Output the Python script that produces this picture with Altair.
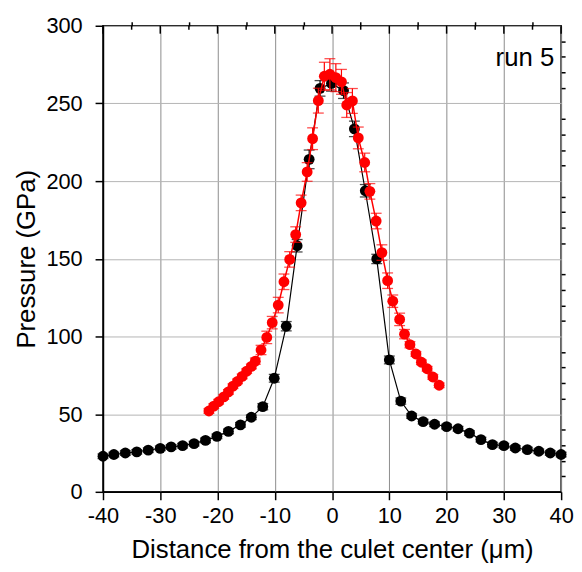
import altair as alt
import pandas as pd

# Black series (run 5, first profile)
black_x = [-40.0, -38.1, -36.1, -34.1, -32.1, -30.0, -28.1, -26.1, -24.1, -22.1,
           -20.1, -18.1, -16.0, -14.1, -12.1, -10.1, -8.0, -6.1, -4.0, -2.1,
           -0.1, 2.0, 3.9, 5.8, 7.8, 10.0, 12.0, 13.9, 15.9, 17.9,
           20.0, 22.0, 24.0, 26.0, 28.0, 30.0, 32.0, 34.1, 36.1, 38.1, 40.0]
black_y = [22.9, 24.0, 25.0, 25.7, 26.8, 28.0, 28.9, 29.7, 31.0, 33.1,
           35.7, 38.9, 43.1, 48.0, 54.8, 73.1, 106.6, 158.4, 214.0, 259.7,
           262.9, 258.2, 233.6, 193.8, 149.9, 84.9, 58.4, 48.8, 45.2, 43.5,
           42.0, 40.6, 37.8, 33.6, 30.4, 29.7, 28.2, 27.2, 26.1, 25.0, 24.0]
black_err = [1.5, 1.5, 1.5, 1.5, 1.5, 1.5, 1.5, 1.5, 1.5, 1.5,
             1.5, 1.5, 1.5, 1.5, 2.0, 2.5, 3.0, 4.0, 6.0, 5.0,
             5.0, 5.0, 5.0, 4.0, 3.0, 2.5, 2.0, 1.5, 1.5, 1.5,
             1.5, 1.5, 1.5, 1.5, 1.5, 1.5, 1.5, 1.5, 1.5, 1.5, 1.5]

# Red series
red_x = [-21.5, -20.65, -19.8, -18.9, -18.1, -17.3, -16.5, -15.7, -14.9, -14.1,
         -13.4, -12.4, -11.4, -10.45, -9.4, -8.4, -7.4, -6.35, -5.4, -4.35,
         -3.4, -2.4, -1.35, -0.38, 0.66, 1.64, 2.56, 3.55, 4.58, 5.7,
         6.6, 7.7, 8.7, 9.7, 10.6, 11.8, 12.65, 13.6, 14.65, 15.6,
         16.6, 17.6, 18.7]
red_y = [52.0, 55.2, 58.0, 61.1, 64.3, 68.0, 71.1, 74.3, 77.7, 80.7,
         84.1, 91.3, 99.4, 108.9, 120.2, 135.2, 149.6, 165.6, 186.0, 205.9,
         227.3, 251.8, 267.5, 268.8, 266.6, 263.9, 249.0, 251.6, 227.8, 212.0,
         193.4, 174.3, 154.0, 135.9, 122.7, 111.0, 101.5, 94.7, 88.7, 83.4,
         79.2, 73.9, 68.6]
red_err = [1.5, 1.5, 1.5, 1.5, 1.5, 1.5, 1.5, 1.5, 1.5, 1.5,
           2.0, 3.0, 4.0, 4.0, 5.0, 5.0, 5.0, 5.0, 5.0, 6.0,
           7.0, 8.0, 9.0, 10.0, 9.0, 8.0, 8.0, 8.0, 7.0, 6.0,
           5.0, 5.0, 5.0, 5.0, 4.0, 4.0, 3.0, 2.0, 1.5, 1.5,
           1.5, 1.5, 1.5]

x_major = list(range(-40, 41, 10))
x_minor = list(range(-35, 40, 10))
y_major = list(range(0, 301, 50))
y_minor = [v for v in range(0, 301, 10) if v % 50 != 0]

W, H = 463, 471

black = pd.DataFrame({"x": black_x, "y": black_y, "e": black_err})
black["lo"] = black["y"] - black["e"]
black["hi"] = black["y"] + black["e"]
red = pd.DataFrame({"x": red_x, "y": red_y, "e": red_err})
red["lo"] = red["y"] - red["e"]
red["hi"] = red["y"] + red["e"]

FONT = "Liberation Sans"
xscale = alt.Scale(domain=[-40, 40], nice=False, zero=False)
yscale = alt.Scale(domain=[0, 300], nice=False, zero=False)

tick_style = dict(ticks=True, tickColor="#000000", tickWidth=1.5, tickOpacity=1)
common = dict(domainColor="black", domainWidth=1.5, **tick_style)

x_axis = alt.Axis(
    values=x_major, labelExpr="'' + datum.value", tickSize=8,
    grid=True, gridColor="#8c8c8c", gridWidth=1,
    labelFont=FONT, labelFontSize=22, labelColor="black", labelPadding=6,
    labelOverlap=False, labelFlush=False,
    title="Distance from the culet center (μm)",
    titleFont=FONT, titleFontSize=26, titleFontWeight="normal", titleColor="black",
    titlePadding=10, **common,
)
x_minor_axis = alt.Axis(values=x_minor, tickSize=4, labels=False, title=None,
                        grid=False, domain=False, **tick_style)
y_axis = alt.Axis(
    values=y_major, labelExpr="'' + datum.value", tickSize=8,
    grid=True, gridColor="#b4b4b4", gridWidth=1,
    labelFont=FONT, labelFontSize=22, labelColor="black", labelPadding=13,
    labelOverlap=False, labelFlush=False,
    title="Pressure (GPa)",
    titleFont=FONT, titleFontSize=26, titleFontWeight="normal", titleColor="black",
    titlePadding=7, **common,
)
y_minor_axis = alt.Axis(values=y_minor, tickSize=4, labels=False, title=None,
                        grid=False, domain=False, **tick_style)


def axis_layer(xa, ya):
    return alt.Chart(black).mark_point(opacity=0).encode(
        x=alt.X("x:Q", scale=xscale, axis=xa),
        y=alt.Y("y:Q", scale=yscale, axis=ya),
    )


# inward ticks along the top frame
top_major = alt.Chart(pd.DataFrame({"v": x_major})).mark_rule(
    color="black", strokeWidth=1.5
).encode(x=alt.X("v:Q", scale=xscale, axis=None), y=alt.value(0), y2=alt.value(8))
top_minor = alt.Chart(pd.DataFrame({"v": x_minor})).mark_rule(
    color="black", strokeWidth=1.5
).encode(x=alt.X("v:Q", scale=xscale, axis=None), y=alt.value(0), y2=alt.value(4))


def layers(df, color, lw):
    base = alt.Chart(df)
    X = alt.X("x:Q", scale=xscale, axis=None)
    line = base.mark_line(color=color, strokeWidth=lw).encode(
        x=X, y=alt.Y("y:Q", scale=yscale, axis=None), order="x:Q",
    )
    bars = base.mark_rule(color=color, strokeWidth=1.2).encode(
        x=X, y=alt.Y("lo:Q", scale=yscale, axis=None), y2="hi:Q",
    )
    cap_hi = base.mark_tick(color=color, orient="horizontal", size=11, thickness=1.3).encode(
        x=X, y=alt.Y("hi:Q", scale=yscale, axis=None),
    )
    cap_lo = base.mark_tick(color=color, orient="horizontal", size=11, thickness=1.3).encode(
        x=X, y=alt.Y("lo:Q", scale=yscale, axis=None),
    )
    pts = base.mark_circle(color=color, size=120, opacity=1).encode(
        x=X, y=alt.Y("y:Q", scale=yscale, axis=None),
    )
    return [line, bars, cap_hi, cap_lo, pts]


label = alt.Chart(pd.DataFrame({"t": ["run 5"]})).mark_text(
    font=FONT, fontSize=26, color="black", align="right", baseline="alphabetic"
).encode(text="t:N", x=alt.value(456), y=alt.value(41))

chart = alt.layer(
    axis_layer(x_axis, y_axis),
    axis_layer(x_minor_axis, y_minor_axis),
    top_major, top_minor,
    *layers(black, "black", 1.2),
    *layers(red, "#ff0000", 1.5),
    label,
).resolve_axis(x="independent", y="independent").properties(
    width=W, height=H,
    padding={"left": 5, "top": 4, "right": 0, "bottom": 0},
).configure_view(stroke="black", strokeWidth=1.5)

chart.save("out.html", embed_options={"renderer": "svg", "actions": False})
